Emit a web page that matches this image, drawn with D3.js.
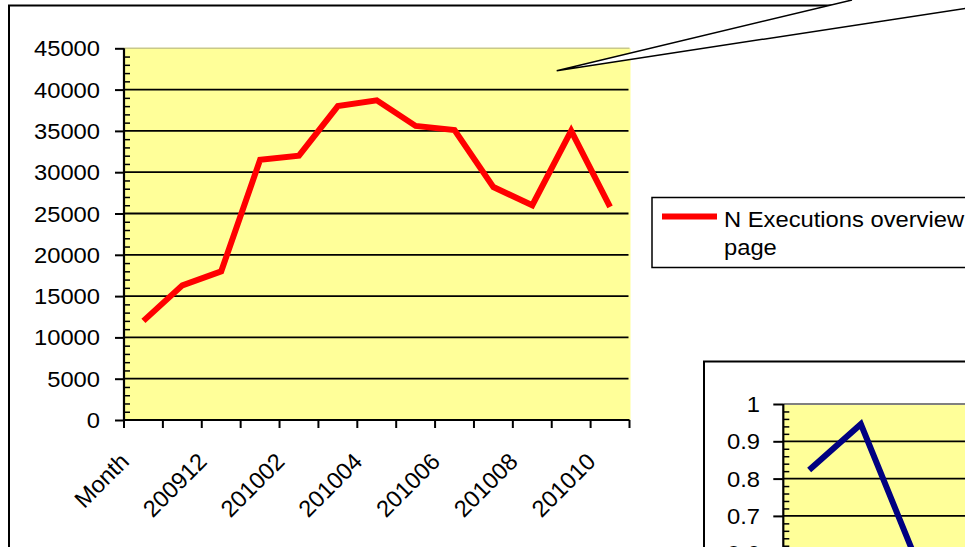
<!DOCTYPE html>
<html>
<head>
<meta charset="utf-8">
<script src="https://cdn.jsdelivr.net/npm/d3@7"></script>
<style>
  body { margin: 0; background: #fff; }
  text { font-family: "Liberation Sans", Arial, sans-serif; fill: #000; }
</style>
</head>
<body>
<div id="canvas"></div>
<script>
// data
let months = ["Month", "200911", "200912", "201001", "201002", "201003", "201004",
              "201005", "201006", "201007", "201008", "201009", "201010"];
let executions = [12000, 16300, 18000, 31500, 32000, 38000, 38700,
                  35600, 35100, 28200, 26000, 35000, 25800];
let yTicks1 = [0, 5000, 10000, 15000, 20000, 25000, 30000, 35000, 40000, 45000];
let shownMonths = ["Month", "200912", "201002", "201004", "201006", "201008", "201010"];
let legendLines = ["N Executions overview", "page"];

// second chart, only its top-left corner is in view
let ratio = [0.823, 0.946, 0.606];
let yTicks2 = [0, 0.1, 0.2, 0.3, 0.4, 0.5, 0.6, 0.7, 0.8, 0.9, 1];

let width = 965;
let height = 547;
let stretch = 1.08; // text in the picture is a bit wider than Arial

var svg = d3.select("#canvas").append("svg")
    .attr("width", width)
    .attr("height", height);

// outer frame of the first chart
svg.append("rect")
    .attr("x", 9).attr("y", 5.5)
    .attr("width", 1200).attr("height", 800)
    .attr("fill", "#fff")
    .attr("stroke", "#000")
    .attr("stroke-width", 2);

// ---------- chart 1 ----------
var x1 = d3.scaleBand()
    .domain(months)
    .range([124, 629.5]);

var y1 = d3.scaleLinear()
    .domain([0, 45000])
    .range([420, 48.3]);

svg.append("rect")
    .attr("x", x1.range()[0])
    .attr("y", y1(45000))
    .attr("width", x1.range()[1] - x1.range()[0] + 1)
    .attr("height", y1(0) - y1(45000))
    .attr("fill", "#ffff99");

// top edge of plot area
svg.append("line")
    .attr("x1", x1.range()[0]).attr("x2", x1.range()[1])
    .attr("y1", y1(45000)).attr("y2", y1(45000))
    .attr("stroke", "#c9c98a").attr("stroke-width", 1.5);

svg.selectAll(".grid1")
    .data(yTicks1.filter(d => d > 0 && d < 45000))
    .enter().append("line")
    .attr("x1", x1.range()[0]).attr("x2", x1.range()[1] - 1)
    .attr("y1", d => y1(d)).attr("y2", d => y1(d))
    .attr("stroke", "#000").attr("stroke-width", 1.8);

var line1 = d3.line()
    .x((d, i) => x1(months[i]) + x1.bandwidth() / 2)
    .y(d => y1(d));

svg.append("path")
    .datum(executions)
    .attr("d", line1)
    .attr("fill", "none")
    .attr("stroke", "#ff0000")
    .attr("stroke-width", 6)
    .attr("stroke-linejoin", "miter");

// y axis: long ticks outside, minor ticks inside
svg.append("g")
    .attr("transform", "translate(124,0)")
    .call(d3.axisLeft(y1).tickValues(yTicks1).tickSize(9).tickFormat(""))
    .call(g => g.select(".domain").remove())
    .selectAll("line").attr("stroke-width", 2);

svg.append("g")
    .attr("transform", "translate(124,0)")
    .call(d3.axisRight(y1).tickValues(d3.range(0, 45001, 1000).filter(d => d % 5000 !== 0))
        .tickSize(6).tickFormat(""))
    .call(g => g.select(".domain").remove())
    .selectAll("line").attr("stroke-width", 1.5);

svg.append("line")
    .attr("x1", 124).attr("x2", 124)
    .attr("y1", y1(45000)).attr("y2", y1(0))
    .attr("stroke", "#000").attr("stroke-width", 2.2);

svg.selectAll(".ylab1")
    .data(yTicks1)
    .enter().append("text")
    .attr("transform", d => "translate(100," + (y1(d) + 8) + ") scale(" + stretch + ",1)")
    .attr("text-anchor", "end")
    .style("font-size", "22px")
    .text(d => d);

// x axis
svg.append("line")
    .attr("x1", 124).attr("x2", x1.range()[1])
    .attr("y1", y1(0)).attr("y2", y1(0))
    .attr("stroke", "#000").attr("stroke-width", 2.2);

svg.selectAll(".xtick1")
    .data(months.map(m => x1(m)).concat([x1.range()[1]]))
    .enter().append("line")
    .attr("x1", d => d).attr("x2", d => d)
    .attr("y1", y1(0)).attr("y2", y1(0) + 8)
    .attr("stroke", "#000").attr("stroke-width", 2);

svg.selectAll(".xlab1")
    .data(shownMonths)
    .enter().append("text")
    .attr("transform", d => "translate(" + (x1(d) + x1.bandwidth() / 2 - 13) + ",463) rotate(-45)")
    .attr("text-anchor", "end")
    .style("font-size", "23.5px")
    .text(d => d);

// legend
svg.append("rect")
    .attr("x", 652).attr("y", 197.5)
    .attr("width", 400).attr("height", 70)
    .attr("fill", "#fff")
    .attr("stroke", "#000").attr("stroke-width", 1.5);

svg.append("line")
    .attr("x1", 662).attr("x2", 717)
    .attr("y1", 216.5).attr("y2", 216.5)
    .attr("stroke", "#ff0000").attr("stroke-width", 6);

svg.selectAll(".leg")
    .data(legendLines)
    .enter().append("text")
    .attr("transform", (d, i) => "translate(724," + (227 + i * 28) + ") scale(" + stretch + ",1)")
    .style("font-size", "22px")
    .text(d => d);

// callout pointer
svg.append("polygon")
    .attr("points", [[852, 0], [556.7, 70.7], [965, 8.3], [965, 0]].join(" "))
    .attr("fill", "#fff");

svg.append("path")
    .attr("d", "M852,0L556.7,70.7L966,8.3")
    .attr("fill", "none")
    .attr("stroke", "#000").attr("stroke-width", 1.5);

// ---------- chart 2 ----------
svg.append("rect")
    .attr("x", 704).attr("y", 361.5)
    .attr("width", 400).attr("height", 400)
    .attr("fill", "#fff")
    .attr("stroke", "#000").attr("stroke-width", 2);

var x2 = d3.scaleBand()
    .domain(months)
    .range([783.3, 783.3 + 13 * 51.7]);

var y2 = d3.scaleLinear()
    .domain([0, 1])
    .range([777, 404]);

svg.append("rect")
    .attr("x", x2.range()[0]).attr("y", y2(1))
    .attr("width", 500).attr("height", y2(0) - y2(1))
    .attr("fill", "#ffff99");

svg.append("line")
    .attr("x1", x2.range()[0]).attr("x2", 1000)
    .attr("y1", y2(1)).attr("y2", y2(1))
    .attr("stroke", "#808080").attr("stroke-width", 2);

svg.selectAll(".grid2")
    .data(yTicks2.filter(d => d > 0 && d < 1))
    .enter().append("line")
    .attr("x1", x2.range()[0]).attr("x2", 1000)
    .attr("y1", d => y2(d)).attr("y2", d => y2(d))
    .attr("stroke", "#000").attr("stroke-width", 1.8);

var line2 = d3.line()
    .x((d, i) => x2(months[i]) + x2.bandwidth() / 2)
    .y(d => y2(d));

svg.append("path")
    .datum(ratio)
    .attr("d", line2)
    .attr("fill", "none")
    .attr("stroke", "#000080")
    .attr("stroke-width", 6);

svg.append("g")
    .attr("transform", "translate(783.3,0)")
    .call(d3.axisLeft(y2).tickValues(yTicks2).tickSize(10).tickFormat(""))
    .call(g => g.select(".domain").remove())
    .selectAll("line").attr("stroke-width", 2);

svg.append("g")
    .attr("transform", "translate(783.3,0)")
    .call(d3.axisRight(y2).tickValues(d3.range(0, 100, 2).filter(d => d % 10 !== 0).map(d => d / 100))
        .tickSize(6).tickFormat(""))
    .call(g => g.select(".domain").remove())
    .selectAll("line").attr("stroke-width", 1.5);

svg.append("line")
    .attr("x1", 783.3).attr("x2", 783.3)
    .attr("y1", y2(1)).attr("y2", y2(0))
    .attr("stroke", "#000").attr("stroke-width", 2.2);

// only the labels that reach into the view
svg.selectAll(".ylab2")
    .data(yTicks2.filter(d => y2(d) < height + 8))
    .enter().append("text")
    .attr("transform", d => "translate(760," + (y2(d) + 8) + ") scale(" + stretch + ",1)")
    .attr("text-anchor", "end")
    .style("font-size", "22px")
    .text(d => d3.format("")(d));
</script>
</body>
</html>
